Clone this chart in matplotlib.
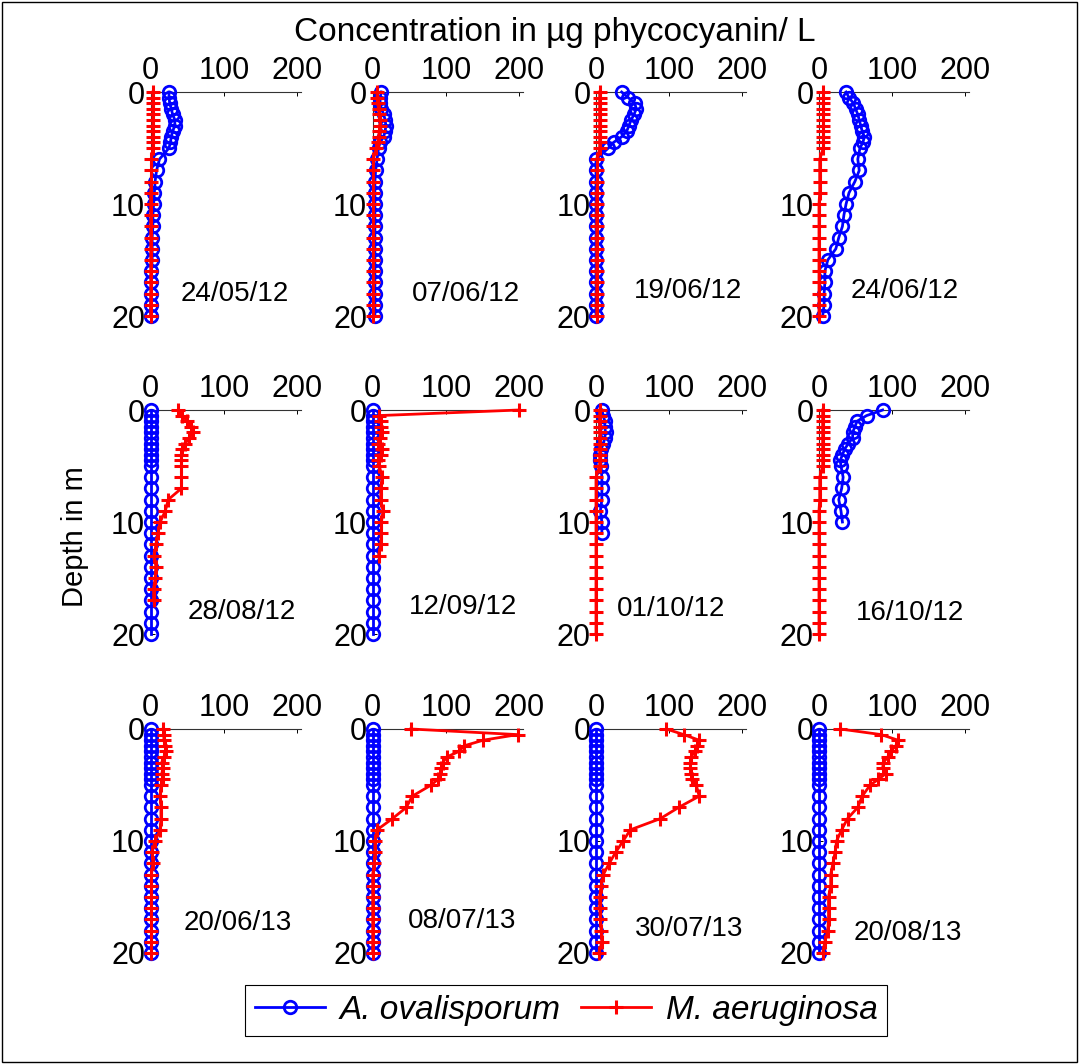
import matplotlib
matplotlib.use("Agg")
import matplotlib.pyplot as plt
from matplotlib.lines import Line2D
from matplotlib.patches import Rectangle

plt.rcParams['font.family'] = ['Liberation Sans', 'DejaVu Sans']

# sampling depths (m): 0.5 m steps to 5 m, then 1 m steps
depth = [0, 0.5, 1, 1.5, 2, 2.5, 3, 3.5, 4, 4.5, 5,
         6, 7, 8, 9, 10, 11, 12, 13, 14, 15, 16, 17, 18, 19, 20]

dates = ['24/05/12', '07/06/12', '19/06/12', '24/06/12',
         '28/08/12', '12/09/12', '01/10/12', '16/10/12',
         '20/06/13', '08/07/13', '30/07/13', '20/08/13']

# A. ovalisporum (blue), ug phycocyanin / L
ova_240512 = [25, 25, 26, 28, 30, 33, 33, 30, 28, 27, 25,
              12, 8, 6, 5, 4, 3, 3, 2, 2, 2, 1, 1, 1, 0, 0]
ova_070612 = [12, 10, 10, 12, 15, 17, 18, 17, 15, 10, 8,
              6, 4, 3, 3, 3, 3, 3, 3, 3, 3, 3, 3, 3, 3, 3]
ova_190612 = [35, 44, 53, 55, 52, 48, 45, 42, 35, 24, 17,
              0, 0, 0, 0, 0, 0, 0, 0, 0, 0, 0, 0, 0, 0, 0]
ova_240612 = [37, 41, 47, 50, 53, 55, 57, 59, 62, 60, 56,
              53, 55, 49, 41, 37, 34, 32, 27, 23, 12, 8, 8, 7, 7, 5]
ova_280812 = [0, 0, 0, 0, 0, 0, 0, 0, 0, 0, 0,
              0, 0, 0, 0, 0, 0, 0, 0, 0, 0, 0, 0, 0, 0, 0]
ova_120912 = [0, 0, 0, 0, 0, 0, 0, 0, 0, 0, 0,
              0, 0, 0, 0, 0, 0, 0, 0, 0, 0, 0, 0, 0, 0, 0]
ova_011012 = [8, 10, 12, 12, 13, 12, 10, 7, 6, 6, 7,
              8, 8, 8, 6, 8, 8]
ova_161012 = [87, 65, 52, 49, 46, 46, 40, 35, 32, 29, 30,
              33, 31, 27, 30, 32]
ova_200613 = [0, 0, 0, 0, 0, 0, 0, 0, 0, 0, 0,
              0, 0, 0, 0, 0, 0, 0, 0, 0, 0, 0, 0, 0, 0, 0]
ova_080713 = [0, 0, 0, 0, 0, 0, 0, 0, 0, 0, 0,
              0, 0, 0, 0, 0, 0, 0, 0, 0, 0, 0, 0, 0, 0, 0]
ova_300713 = [0, 0, 0, 0, 0, 0, 0, 0, 0, 0, 0,
              0, 0, 0, 0, 0, 0, 0, 0, 0, 0, 0, 0, 0, 0, 0]
ova_200813 = [0, 0, 0, 0, 0, 0, 0, 0, 0, 0, 0,
              0, 0, 0, 0, 0, 0, 0, 0, 0, 0, 0, 0, 0, 0, 0]

# M. aeruginosa (red)
aer_240512 = [3, 3, 3, 3, 3, 3, 3, 3, 3, 3, 3,
              1, 1, 1, 0, 0, 0, 0, 0, 0, 0, 0, 0, 0, 0, 0]
aer_070612 = [6, 6, 7, 8, 9, 10, 10, 9, 8, 7, 5,
              1, 1, 1, 1, 1, 1, 1, 1, 1, 1, 1, 1, 1, 1, 1]
aer_190612 = [5, 5, 5, 5, 5, 5, 5, 5, 5, 5, 5,
              2, 2, 2, 1, 1, 1, 1, 1, 1, 1, 1, 1, 1, 1, 1]
aer_240612 = [6, 6, 6, 6, 6, 6, 6, 6, 6, 6, 6,
              1, 1, 1, 1, 0, 0, 0, 0, 0, 0, 0, 0, 0, 0, 0]
aer_280812 = [37, 43, 50, 55, 58, 53, 47, 43, 42, 42, 42,
              42, 42, 24, 20, 13, 10, 7, 5, 7, 6, 4, 4]
aer_120912 = [200, 8, 12, 12, 13, 10, 7, 13, 11, 7, 9,
              13, 11, 11, 14, 12, 12, 11, 8]
aer_011012 = [5, 5, 5, 5, 5, 5, 5, 5, 5, 5, 5,
              0, 0, 0, 0, 0, 0, 0, 0, 0, 0, 0, 0, 0, 0, 0]
aer_161012 = [5, 5, 5, 5, 5, 5, 5, 5, 5, 5, 5,
              1, 1, 1, 0, 0, 0, 0, 0, 0, 0, 0, 0, 0, 0, 0]
aer_200613 = [17, 18, 18, 20, 21, 18, 15, 17, 15, 17, 14,
              13, 14, 14, 13, 6, 2, 3, 1, 1, 1, 1, 1, 1, 1, 1]
aer_080713 = [52, 198, 151, 125, 118, 101, 96, 94, 92, 89, 80,
              54, 46, 27, 6, 3, 3, 2, 0, 0, 0, 0, 0, 0, 0, 0]
aer_300713 = [96, 120, 141, 138, 135, 130, 129, 129, 130, 131, 137,
              141, 113, 88, 47, 37, 27, 18, 10, 7, 5, 5, 6, 7, 8, 4]
aer_200813 = [29, 85, 108, 105, 98, 94, 88, 87, 91, 81, 70,
              59, 53, 39, 31, 24, 22, 19, 16, 16, 13, 13, 13, 12, 8, 5]

ova = [ova_240512, ova_070612, ova_190612, ova_240612,
       ova_280812, ova_120912, ova_011012, ova_161012,
       ova_200613, ova_080713, ova_300713, ova_200813]
aer = [aer_240512, aer_070612, aer_190612, aer_240612,
       aer_280812, aer_120912, aer_011012, aer_161012,
       aer_200613, aer_080713, aer_300713, aer_200813]

# layout (pixels in the 1079x1064 figure)
W, H = 1079, 1064
col_x0 = [150.7, 372.7, 596, 819]
row_top = [92, 410, 729]
ax_w, ax_h = 150, 224
label_pos = [(0.56, 0.10), (0.62, 0.10), (0.61, 0.11), (0.57, 0.11),
             (0.61, 0.10), (0.60, 0.12), (0.50, 0.11), (0.61, 0.095),
             (0.58, 0.135), (0.595, 0.145), (0.62, 0.108), (0.59, 0.09)]

blue_style = dict(color='blue', marker='o', mfc='none', mec='blue',
                  ms=9, mew=2.0, lw=2.0)
red_style = dict(color='red', marker='+', ms=9.5, mew=2.2, lw=2.0)

fig = plt.figure(figsize=(W / 100, H / 100), dpi=100)

for i in range(12):
    r, c = divmod(i, 4)
    left = col_x0[c] / W
    bottom = 1 - (row_top[r] + ax_h) / H
    ax = fig.add_axes([left, bottom, ax_w / W, ax_h / H])
    ax.plot(ova[i], depth[:len(ova[i])], clip_on=False, zorder=3, **blue_style)
    ax.plot(aer[i], depth[:len(aer[i])], clip_on=False, zorder=4, **red_style)
    ax.set_xlim(0, 205)
    ax.set_ylim(20, 0)
    ax.set_xticks([0, 100, 200])
    ax.set_yticks([0, 10, 20])
    ax.xaxis.set_ticks_position('top')
    ax.xaxis.set_label_position('top')
    ax.tick_params(axis='both', direction='in', length=3, width=0.7,
                   labelsize=22, pad=4)
    for s in ['right', 'bottom']:
        ax.spines[s].set_visible(False)
    for s in ['top', 'left']:
        ax.spines[s].set_linewidth(0.8)
        ax.spines[s].set_color('#333333')
    ax.patch.set_visible(False)
    ax.text(label_pos[i][0], label_pos[i][1], dates[i], transform=ax.transAxes,
            ha='center', va='center', fontsize=20)

fig.text(555 / W, 1 - 32 / H, 'Concentration in µg phycocyanin/ L',
         ha='center', va='center', fontsize=24)
fig.text(75 / W, 1 - 537 / H, 'Depth in m', rotation=90,
         ha='center', va='center', fontsize=21)

handles = [Line2D([], [], **blue_style), Line2D([], [], **red_style)]
leg = fig.legend(handles, ['A. ovalisporum', 'M. aeruginosa'], loc='center',
                 bbox_to_anchor=(566 / W, 1 - 1010 / H), ncol=2,
                 prop={'style': 'italic', 'size': 24}, fancybox=False,
                 edgecolor='black', handlelength=2.1, handletextpad=0.45,
                 columnspacing=0.6, borderpad=0.3, framealpha=1)
leg.get_frame().set_linewidth(0.8)

fig.patches.append(Rectangle((2 / W, 2 / H), 1 - 4 / W, 1 - 4 / H,
                             transform=fig.transFigure, fill=False,
                             edgecolor='black', linewidth=1))

fig.savefig('out.png', dpi=100)
